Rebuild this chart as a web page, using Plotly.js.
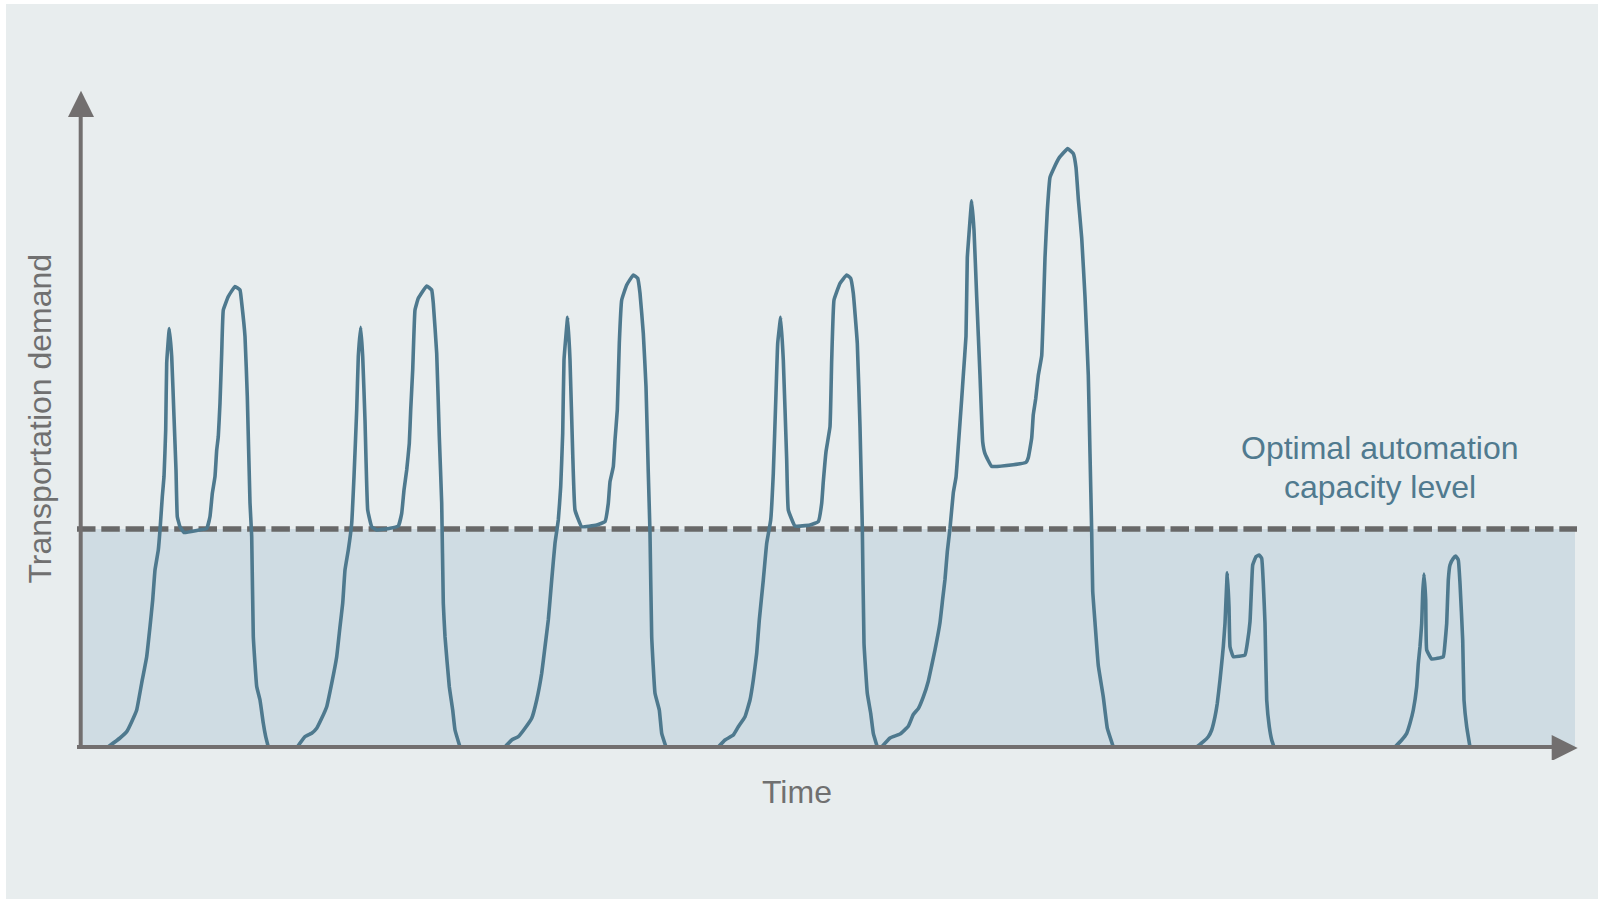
<!DOCTYPE html>
<html>
<head>
<meta charset="utf-8">
<script src="https://cdn.plot.ly/plotly-3.0.1.min.js"></script>
<style>
  html, body { margin: 0; padding: 0; background: #ffffff; }
  #chart { position: absolute; left: 6px; top: 4px; width: 1592px; height: 895px; }
</style>
</head>
<body>
<div id="chart"></div>
<script>
// ---- Data (time index, transportation demand index) ----
const day1Time = [2.8, 4.0, 4.67, 5.17, 5.67, 6.17, 6.67, 7.0, 7.27, 7.5, 7.83, 8.0, 8.23, 8.4, 8.57, 8.67, 8.93, 9.17, 9.4, 9.6, 9.73, 10.0, 10.4, 11.67, 12.67, 13.0, 13.23, 13.5, 13.67, 13.83, 14.0, 14.17, 14.33, 14.83, 15.5, 16.0, 16.17, 16.5, 16.73, 17.0, 17.17, 17.33, 17.67, 18.0, 18.33, 18.57, 18.83];
const day1Demand = [0, 1.8, 3.06, 5.06, 7.4, 12.8, 18.06, 24.06, 29.4, 35.4, 39.4, 43.4, 50.06, 54.06, 63.4, 76.8, 83.7, 78.06, 66.06, 55.4, 46.06, 44.06, 42.9, 43.3, 43.7, 46.1, 50.7, 54.1, 59.4, 62.1, 68.8, 78.8, 87.4, 90.1, 92.1, 91.4, 88.8, 82.1, 70.1, 48.8, 42.1, 22.1, 12.1, 9.4, 4.74, 2.06, 0];

const day2Time = [21.73, 22.5, 23.17, 23.67, 24.17, 24.67, 25.17, 25.67, 26.0, 26.27, 26.5, 26.83, 27.17, 27.4, 27.67, 27.83, 28.07, 28.27, 28.5, 28.77, 29.17, 29.67, 31.0, 31.83, 32.17, 32.4, 32.67, 32.93, 33.07, 33.27, 33.5, 33.83, 34.67, 35.17, 35.33, 35.67, 35.93, 36.17, 36.33, 36.5, 36.93, 37.27, 37.5, 38.0];
const day2Demand = [0, 2.06, 2.74, 3.74, 5.74, 8.06, 12.74, 18.06, 24.06, 28.74, 35.4, 39.4, 44.74, 54.06, 67.4, 78.06, 83.94, 78.06, 65.4, 47.4, 44.06, 43.4, 43.74, 44.2, 46.74, 51.4, 55.4, 60.74, 67.4, 75.4, 87.4, 89.74, 92.2, 91.4, 88.74, 78.74, 62.06, 48.74, 28.74, 22.06, 12.06, 7.4, 3.4, 0];

const day3Time = [42.5, 43.17, 43.83, 44.5, 45.17, 45.67, 46.17, 46.5, 46.83, 47.17, 47.5, 47.83, 48.07, 48.27, 48.4, 48.77, 49.0, 49.27, 49.5, 50.17, 51.67, 52.5, 52.83, 53.0, 53.33, 53.5, 53.73, 53.93, 54.17, 54.67, 55.33, 55.77, 56.0, 56.33, 56.6, 56.83, 57.0, 57.17, 57.5, 57.93, 58.17, 58.6];
const day3Demand = [0, 1.4, 2.06, 3.74, 5.74, 9.4, 14.74, 20.06, 25.4, 33.4, 40.74, 45.4, 52.06, 62.74, 77.4, 85.94, 77.4, 58.74, 47.4, 44.06, 44.4, 45.06, 48.74, 53.06, 56.06, 61.4, 67.4, 80.74, 89.4, 92.4, 94.4, 93.74, 90.74, 82.74, 72.06, 54.74, 42.74, 22.06, 10.74, 7.4, 2.74, 0];

const day4Time = [63.83, 64.5, 65.33, 65.83, 66.5, 67.0, 67.33, 67.67, 67.93, 68.33, 68.67, 69.07, 69.33, 69.6, 69.77, 70.07, 70.33, 70.67, 70.83, 71.5, 73.0, 73.83, 74.17, 74.33, 74.6, 75.0, 75.17, 75.4, 76.0, 76.67, 77.07, 77.33, 77.73, 78.0, 78.23, 78.4, 78.73, 79.07, 79.33, 79.73];
const day4Demand = [0, 1.4, 2.4, 4.06, 6.06, 9.4, 13.4, 18.74, 25.4, 33.4, 40.74, 45.4, 54.74, 70.74, 80.74, 85.94, 77.4, 57.4, 47.4, 44.2, 44.4, 45.06, 48.74, 53.06, 59.06, 64.06, 77.4, 89.4, 92.74, 94.4, 93.74, 90.74, 80.74, 64.06, 44.06, 20.74, 10.74, 6.74, 2.74, 0];

const day5Time = [80.17, 81.0, 82.0, 82.83, 83.33, 83.83, 84.33, 84.83, 85.17, 85.5, 86.0, 86.27, 86.5, 86.73, 87.0, 87.33, 87.6, 87.83, 88.17, 88.33, 88.6, 88.73, 88.87, 89.17, 89.4, 89.67, 90.0, 90.27, 90.5, 91.17, 93.33, 94.6, 94.83, 95.17, 95.33, 95.57, 95.83, 96.17, 96.33, 96.5, 96.73, 97.0, 97.33, 97.93, 98.77, 99.33, 99.6, 99.83, 100.17, 100.5, 100.83, 101.0, 101.17, 101.27, 101.5, 101.83, 102.33, 102.73, 103.33];
const day5Demand = [0, 1.8, 2.58, 4.14, 6.5, 7.68, 10.02, 13.16, 16.3, 19.44, 24.92, 29.64, 33.56, 39.04, 43.76, 50.82, 53.94, 60.22, 69.64, 74.34, 82.18, 97.88, 101.8, 109.24, 103.36, 90.02, 74.34, 61.0, 58.66, 56.14, 56.46, 56.92, 57.88, 61.8, 66.5, 69.64, 74.34, 78.26, 86.9, 97.88, 107.28, 113.94, 115.52, 117.88, 119.68, 118.66, 115.9, 109.64, 101.8, 90.02, 74.34, 58.66, 42.96, 31.2, 24.92, 16.3, 10.02, 3.76, 0];

const day6Time = [111.67, 112.33, 112.83, 113.17, 113.5, 113.73, 114.0, 114.17, 114.33, 114.5, 114.6, 114.73, 114.9, 115.0, 115.33, 116.5, 116.73, 117.0, 117.17, 117.27, 117.6, 117.9, 118.17, 118.33, 118.5, 118.67, 118.93, 119.17, 119.4];
const day6Demand = [0, 1.06, 2.06, 3.4, 6.06, 8.74, 13.4, 16.74, 20.06, 24.74, 29.4, 34.86, 28.06, 20.06, 18.06, 18.4, 20.74, 25.06, 32.74, 36.4, 38.06, 38.4, 37.74, 32.74, 24.74, 9.4, 4.06, 1.4, 0];

const day7Time = [131.5, 132.17, 132.67, 133.0, 133.33, 133.67, 133.83, 134.0, 134.17, 134.27, 134.4, 134.57, 134.67, 135.17, 136.33, 136.5, 136.67, 136.83, 137.0, 137.33, 137.57, 137.83, 138.0, 138.27, 138.4, 138.67, 139.0];
const day7Demand = [0, 1.4, 2.74, 4.74, 7.4, 12.06, 16.74, 20.06, 24.74, 30.74, 34.6, 29.4, 19.4, 17.6, 18.06, 20.74, 24.74, 33.4, 36.4, 37.74, 38.2, 37.4, 32.74, 21.4, 9.4, 4.06, 0];

const capacityLevel = 43.6;            // optimal automation capacity level
const capacitySpan = [0, 149.5];        // extent of the shaded capacity band
const dashedSpan = [-0.3, 149.7];       // extent of the dashed capacity line

const xTitle = "Time";
const yTitle = "Transportation demand";
const capacityLabel = ["Optimal automation", "capacity level"];

// ---- Build traces ----
const days = [
  [day1Time, day1Demand], [day2Time, day2Demand], [day3Time, day3Demand],
  [day4Time, day4Demand], [day5Time, day5Demand], [day6Time, day6Demand],
  [day7Time, day7Demand]
];
const demandX = [], demandY = [];
days.forEach(([t, d], i) => {
  if (i > 0) { demandX.push(null); demandY.push(null); }
  demandX.push(...t); demandY.push(...d);
});

const FONT = '"Liberation Sans", Arial, Helvetica, sans-serif';
const AXIS_GREY = '#726f6f';

const traces = [
  {
    x: capacitySpan, y: [capacityLevel, capacityLevel],
    type: 'scatter', mode: 'lines', fill: 'tozeroy',
    fillcolor: '#cfdce3', line: { width: 0, color: 'rgba(0,0,0,0)' },
    hoverinfo: 'skip', showlegend: false
  },
  {
    x: dashedSpan, y: [capacityLevel, capacityLevel],
    type: 'scatter', mode: 'lines',
    line: { color: '#686868', width: 5.5, dash: '18.5px,5.8px' },
    hoverinfo: 'skip', showlegend: false
  },
  {
    x: demandX, y: demandY,
    type: 'scatter', mode: 'lines', connectgaps: false,
    line: { color: '#4e798e', width: 3.6, shape: 'spline', smoothing: 0.3 },
    showlegend: false
  }
];

const layout = {
  width: 1592, height: 895,
  margin: { l: 54, r: 10, t: 76, b: 139 },
  paper_bgcolor: '#e8edee',
  plot_bgcolor: 'rgba(0,0,0,0)',
  font: { family: FONT },
  showlegend: false,
  xaxis: { range: [-2, 150.8], visible: false, fixedrange: true },
  yaxis: { range: [-2.6, 133.4], visible: false, fixedrange: true },
  shapes: [
    // y axis line and arrow head
    { type: 'line', xref: 'x', yref: 'y', x0: 0.07, x1: 0.07, y0: -0.4, y1: 126.5,
      line: { color: AXIS_GREY, width: 4 }, layer: 'above' },
    { type: 'path', xref: 'x', yref: 'y', path: 'M -1.2,126 L 1.4,126 L 0.1,131.26 Z',
      fillcolor: AXIS_GREY, line: { width: 0 }, layer: 'above' },
    // x axis line and arrow head
    { type: 'line', xref: 'x', yref: 'y', x0: -0.3, x1: 147.5, y0: 0, y1: 0,
      line: { color: AXIS_GREY, width: 4 }, layer: 'above' },
    { type: 'path', xref: 'x', yref: 'y', path: 'M 147.17,2.4 L 147.17,-2.8 L 149.77,-0.2 Z',
      fillcolor: AXIS_GREY, line: { width: 0 }, layer: 'above' }
  ],
  annotations: [
    { text: xTitle, xref: 'x', yref: 'paper', x: 71.7, y: -0.047,
      xanchor: 'center', yanchor: 'middle', showarrow: false,
      font: { family: FONT, size: 32, color: '#707070' } },
    { text: yTitle, xref: 'paper', yref: 'paper', x: -0.0134, y: 0.5015,
      xanchor: 'center', yanchor: 'middle', textangle: -90, showarrow: false,
      font: { family: FONT, size: 32, color: '#707070' } },
    { text: capacityLabel[0], xref: 'x', yref: 'y', x: 129.95, y: 59.8,
      xanchor: 'center', yanchor: 'middle', showarrow: false,
      font: { family: FONT, size: 32, color: '#507a8f' } },
    { text: capacityLabel[1], xref: 'x', yref: 'y', x: 129.95, y: 52.1,
      xanchor: 'center', yanchor: 'middle', showarrow: false,
      font: { family: FONT, size: 32, color: '#507a8f' } }
  ]
};

Plotly.newPlot('chart', traces, layout, { staticPlot: true, displayModeBar: false });
</script>
</body>
</html>
